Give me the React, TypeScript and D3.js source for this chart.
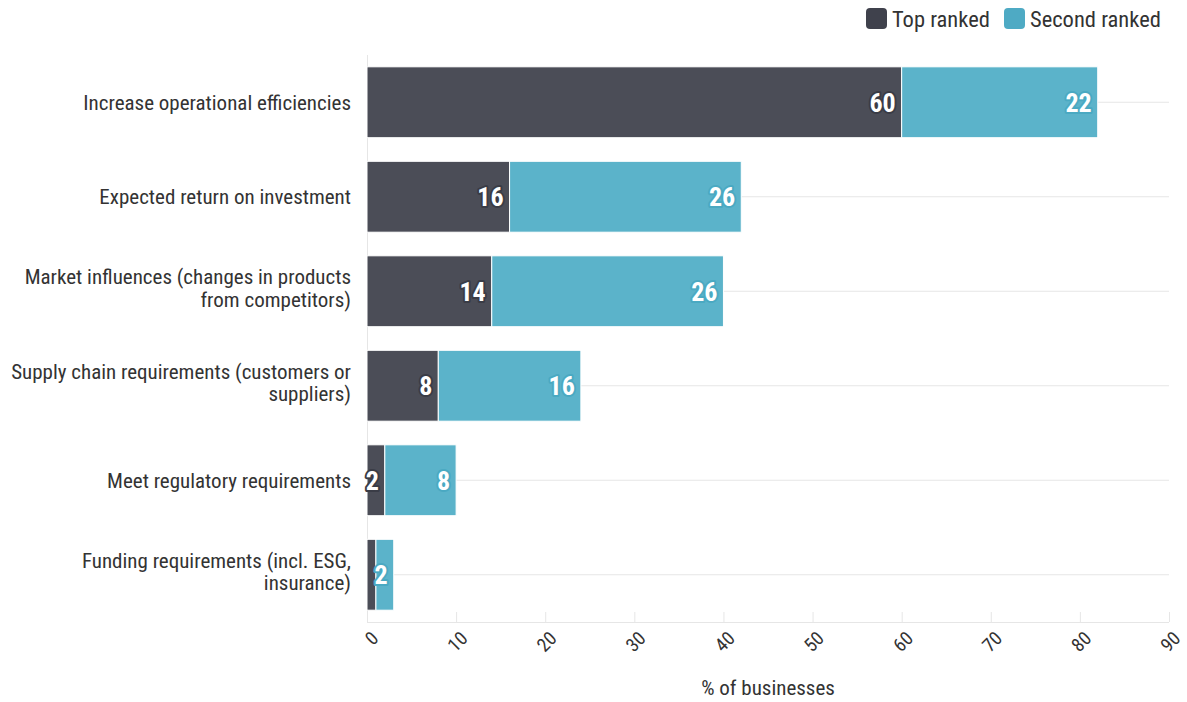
import React from "react";
import * as d3 from "d3";

const categories = [
  ["Increase operational efficiencies"],
  ["Expected return on investment"],
  ["Market influences (changes in products", "from competitors)"],
  ["Supply chain requirements (customers or", "suppliers)"],
  ["Meet regulatory requirements"],
  ["Funding requirements (incl. ESG,", "insurance)"],
];
const topRanked = [60, 16, 14, 8, 2, 1];
const secondRanked = [22, 26, 26, 16, 8, 2];
const xTicks = [0, 10, 20, 30, 40, 50, 60, 70, 80, 90];
const seriesNames = ["Top ranked", "Second ranked"];

const W = 1187;
const H = 702;
const FONT = "'Roboto Condensed', 'Liberation Sans Narrow', 'DejaVu Sans Condensed', Roboto, sans-serif";
const DARK = "#4b4d57";
const TEAL = "#5bb3ca";
const LDARK = "#3f414c";
const LTEAL = "#4eaac4";

export default function App() {
  const left = 367, right = 1169, top = 55, bottom = 622;
  const x = d3.scaleLinear().domain([0, 90]).range([left, right]);
  const y = d3.scaleBand<number>().domain(categories.map((_, i) => i)).range([top, bottom]).paddingInner(0.25).paddingOuter(0.125);
  const bw = y.bandwidth();
  const center = (i: number) => (y(i) as number) + bw / 2;

  const label = (v: number, xEnd: number, cy: number, outline: string, key: string) => (
    <text key={key} x={xEnd - 6} y={cy} dy="0.36em" textAnchor="end" fontFamily={FONT} fontWeight="bold" fontSize={26}
      fill="#fff" stroke={outline} strokeWidth={4} strokeLinejoin="round" paintOrder="stroke">{v}</text>
  );

  return (
    <svg width={W} height={H} style={{ position: "absolute", left: 0, top: 0, background: "#fff" }}>
      {categories.map((_, i) => (
        <line key={"g" + i} x1={left} x2={right} y1={center(i)} y2={center(i)} stroke="#e6e6e6" strokeWidth={1} />
      ))}
      <line x1={left + 0.5} x2={left + 0.5} y1={top} y2={bottom} stroke="#e6e6e6" />
      <line x1={left} x2={right} y1={bottom + 0.5} y2={bottom + 0.5} stroke="#e6e6e6" />
      {xTicks.map((t) => (
        <g key={"t" + t}>
          <line x1={x(t) + 0.5} x2={x(t) + 0.5} y1={bottom - 10} y2={bottom} stroke="#e6e6e6" />
          <text transform={`translate(${x(t) + 3},${bottom + 8}) rotate(-45)`} textAnchor="end" dy="0.72em"
            fontFamily={FONT} fontSize={19} fill="#333">{t}</text>
        </g>
      ))}
      <text x={(left + right) / 2} y={695} textAnchor="middle" fontFamily={FONT} fontSize={21} fill="#333">% of businesses</text>
      {categories.map((lines, i) => (
        <text key={"c" + i} x={351} y={center(i)} textAnchor="end" fontFamily={FONT} fontSize={21} fill="#333">
          {lines.map((l, j) => (
            <tspan key={j} x={351} dy={j === 0 ? (lines.length === 1 ? "0.35em" : "-0.33em") : "1.07em"}>{l}</tspan>
          ))}
        </text>
      ))}
      {categories.map((_, i) => {
        const y0 = y(i) as number;
        const a = topRanked[i];
        const b = secondRanked[i];
        return (
          <g key={"b" + i}>
            <rect x={x(0)} y={y0} width={x(a) - x(0)} height={bw} fill={DARK} stroke="#fff" strokeWidth={1} />
            <rect x={x(a)} y={y0} width={x(a + b) - x(a)} height={bw} fill={TEAL} stroke="#fff" strokeWidth={1} />
          </g>
        );
      })}
      {categories.map((_, i) => {
        const a = topRanked[i];
        const b = secondRanked[i];
        const cy = center(i);
        const out = [] as React.ReactNode[];
        if (a >= 2) out.push(label(a, x(a), cy, "#3a3c46", "la" + i));
        out.push(label(b, x(a + b), cy, "#4aa9c2", "lb" + i));
        return <g key={"l" + i}>{out}</g>;
      })}
      <rect x={866} y={8} width={21} height={21} rx={4} fill={LDARK} />
      <text x={892} y={19} dy="0.36em" fontFamily={FONT} fontSize={22.5} fill="#333">{seriesNames[0]}</text>
      <rect x={1004} y={8} width={21} height={21} rx={4} fill={LTEAL} />
      <text x={1030} y={19} dy="0.36em" fontFamily={FONT} fontSize={22.5} fill="#333">{seriesNames[1]}</text>
    </svg>
  );
}
